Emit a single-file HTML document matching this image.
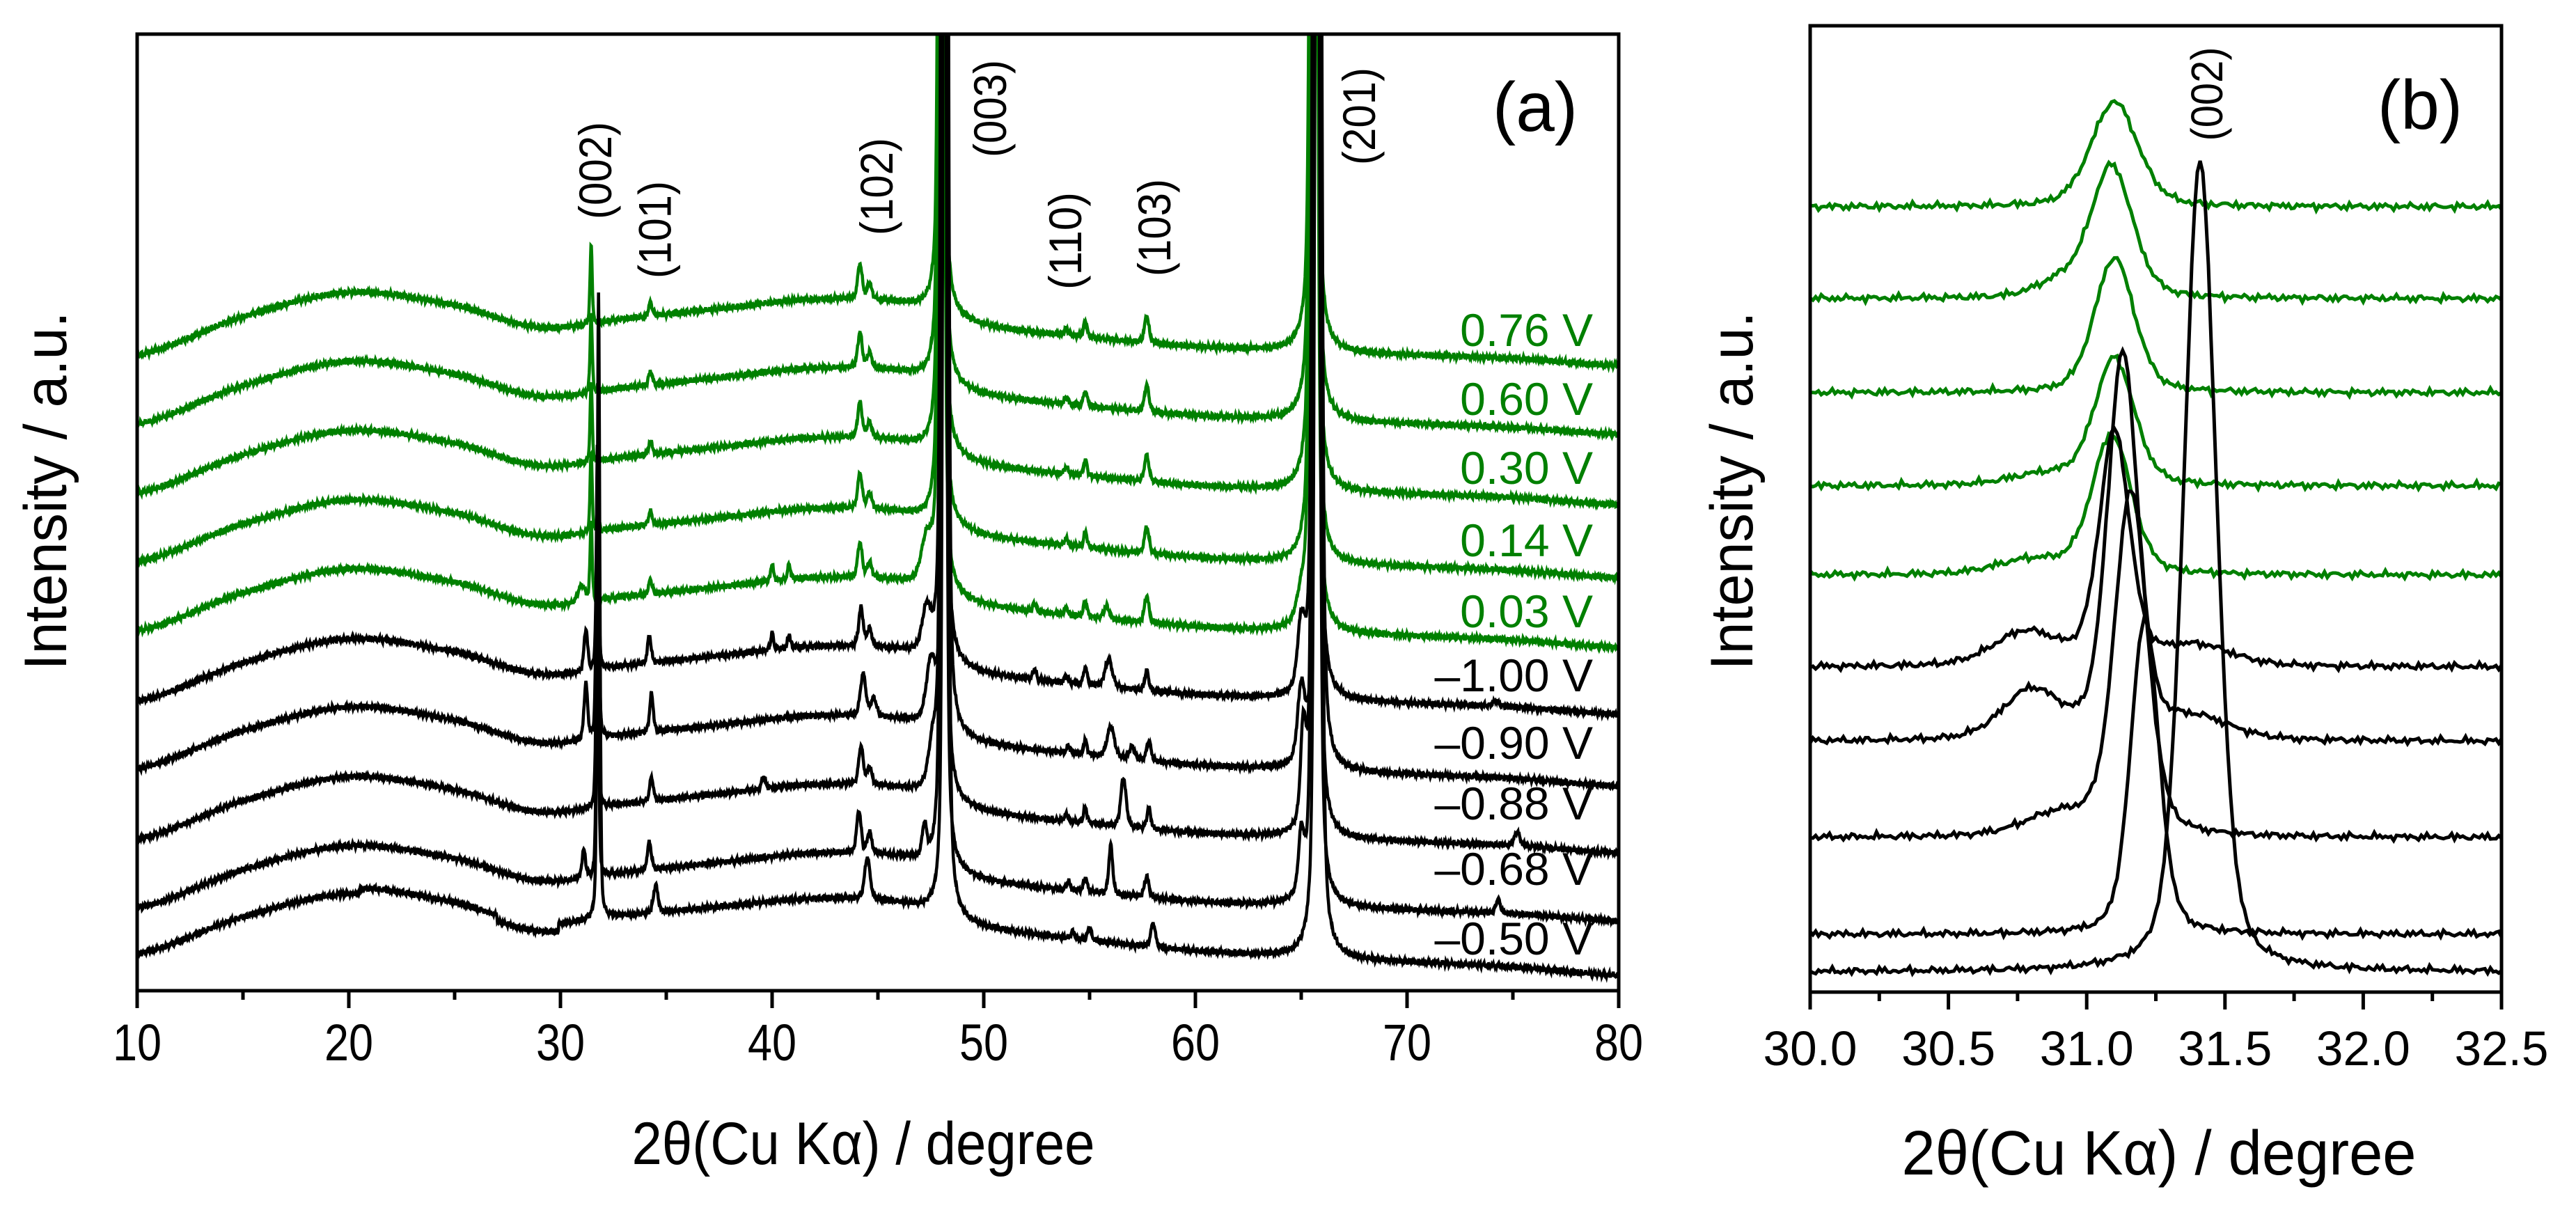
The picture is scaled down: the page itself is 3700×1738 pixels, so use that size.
<!DOCTYPE html>
<html><head><meta charset="utf-8"><style>
html,body{margin:0;padding:0;background:#fff;}
svg{display:block;font-family:"Liberation Sans",sans-serif;}
</style></head><body>
<svg id="chart" width="3700" height="1738" viewBox="0 0 3700 1738" xmlns="http://www.w3.org/2000/svg">
<defs>
<clipPath id="clipA"><rect x="197" y="49" width="2128" height="1374"/></clipPath>
<clipPath id="clipB"><rect x="2600" y="37" width="993" height="1388"/></clipPath>
</defs>
<g id="curvesA" clip-path="url(#clipA)"></g>
<g id="curvesB" clip-path="url(#clipB)"></g>
<rect x="197" y="49" width="2128" height="1374" fill="none" stroke="#000" stroke-width="5"/>
<rect x="2600" y="37" width="993" height="1388" fill="none" stroke="#000" stroke-width="5"/>
<g id="axesA"></g>
<g id="axesB"></g>
<g id="labelsA"></g>
<text x="1240" y="1672" font-size="86" text-anchor="middle" textLength="665" lengthAdjust="spacingAndGlyphs">2θ(Cu Kα) / degree</text>
<text transform="translate(95,705) rotate(-90)" font-size="86" text-anchor="middle" textLength="515" lengthAdjust="spacingAndGlyphs">Intensity / a.u.</text>
<text x="3101" y="1687" font-size="90" text-anchor="middle" textLength="739" lengthAdjust="spacingAndGlyphs">2θ(Cu Kα) / degree</text>
<text transform="translate(2517,705) rotate(-90)" font-size="86" text-anchor="middle" textLength="515" lengthAdjust="spacingAndGlyphs">Intensity / a.u.</text>
<text x="2205" y="188" font-size="100" text-anchor="middle">(a)</text>
<text x="3476" y="185" font-size="100" text-anchor="middle">(b)</text>
<text transform="translate(3192,135) rotate(-90)" font-size="64" text-anchor="middle" textLength="135" lengthAdjust="spacingAndGlyphs">(002)</text>
</svg>
<script>
// ---------- Panel (a) data ----------
const aLabels = ["0.76 V","0.60 V","0.30 V","0.14 V","0.03 V","\u20131.00 V","\u20130.90 V","\u20130.88 V","\u20130.68 V","\u20130.50 V"];
const aGreen = [true,true,true,true,true,false,false,false,false,false];
const aOffsets = [913,814,715,616,517,416,319,218,119,53];
const aTilt = [0,0,-2,-8,-9,-4,-10,-5,-4,-28];
const aLabelY = [497,596,695,799,901,993,1090,1177,1271,1371];
const bgX = [10,15,20,25,29,33,38,42,46,50,55,60,65,70,75,80];
const bgY = [0,55,90,72,40,52,68,80,75,42,25,12,5,0,-5,-15];
const greenPeaks = [[31.45,115,0.12],[34.25,20,0.2],[44.15,50,0.25],[44.6,22,0.25],[48.0,3000,0.22],[53.9,10,0.2],[54.8,22,0.2],[57.7,38,0.25],[65.6,3000,0.28]];
const extraPeaks = [
 [],[],[],[],
 [[31.0,25,0.4],[40.0,25,0.15],[40.8,22,0.15],[47.3,60,0.6],[52.4,12,0.2],[55.8,18,0.3],[65.0,30,0.5]],
 [[31.75,260,0.14],[31.2,60,0.2],[34.2,40,0.2],[40.0,25,0.15],[40.8,20,0.15],[44.2,55,0.25],[44.6,25,0.25],[47.3,60,0.5],[48.1,3000,0.22],[52.4,15,0.2],[53.9,10,0.2],[54.8,25,0.2],[55.9,40,0.4],[57.7,28,0.22],[65.0,90,0.4],[65.7,3000,0.28],[74.2,8,0.3]],
 [[31.75,427,0.14],[31.2,80,0.2],[34.3,55,0.2],[44.3,60,0.3],[44.8,25,0.3],[47.5,80,0.5],[48.2,3000,0.22],[54.0,10,0.2],[54.8,20,0.2],[56.0,45,0.4],[57.0,18,0.3],[57.8,28,0.25],[65.0,100,0.4],[65.8,3000,0.28]],
 [[31.75,382,0.14],[34.3,35,0.2],[39.6,18,0.2],[44.2,55,0.25],[44.6,25,0.25],[47.6,60,0.5],[48.1,3000,0.22],[53.9,10,0.2],[54.8,22,0.2],[56.6,70,0.3],[57.8,30,0.22],[65.1,130,0.3],[65.7,3000,0.28],[75.2,20,0.3]],
 [[31.75,351,0.14],[31.1,40,0.2],[34.2,40,0.22],[44.1,60,0.25],[44.6,30,0.25],[47.2,45,0.25],[48.1,3000,0.22],[54.0,12,0.2],[54.8,20,0.2],[56.0,70,0.22],[57.7,30,0.25],[65.0,80,0.3],[65.7,3000,0.28],[74.3,20,0.25]],
 [[31.8,900,0.14],[34.5,40,0.25],[44.5,60,0.3],[48.2,3000,0.22],[54.2,10,0.2],[55.0,18,0.22],[58.0,35,0.25],[65.8,3000,0.28]]
];
const aTicks = [10,20,30,40,50,60,70,80];
const hklLabels = ["(002)","(101)","(102)","(003)","(110)","(103)","(201)"];
const hklX = [31.65,34.45,44.93,50.3,53.85,58.06,67.73];
const hklY = [245,330,268,156,346,327,167];

// ---------- Panel (b) data ----------
const bOffsets = [1128,996,861,727,599,467,360,222,83,29];
const bPeaks = [
 [[31.10,151,0.2]],
 [[31.09,190,0.18],[30.9,20,0.2]],
 [[31.10,194,0.17]],
 [[31.10,182,0.17],[30.85,15,0.3]],
 [[31.09,200,0.17],[30.8,20,0.3]],
 [[31.10,336,0.13],[30.78,48,0.28],[31.4,28,0.3]],
 [[31.13,555,0.13],[30.8,70,0.25],[31.4,28,0.3]],
 [[31.16,497,0.14],[30.9,30,0.3]],
 [[31.21,456,0.12]],
 [[31.41,1166,0.14]]
];
const bTicks = [30.0,30.5,31.0,31.5,32.0,32.5];

const NS="http://www.w3.org/2000/svg";
function xA(d){return 197+(d-10)*(2128/70);}
function yA(v){return 1423-v;}
function xB(d){return 2600+(d-30)*(993/2.5);}
function yB(v){return 1425-v;}
function pv(x,c,h,w){const t=(x-c)/(w/2);return h*(0.35/(1+t*t)+0.65*Math.exp(-0.693*t*t));}
function bg(x){
  const n=bgX.length;
  for(let i=0;i<n-1;i++){if(x<=bgX[i+1]){
    const t=(x-bgX[i])/(bgX[i+1]-bgX[i]);
    const p0=bgY[Math.max(i-1,0)],p1=bgY[i],p2=bgY[i+1],p3=bgY[Math.min(i+2,n-1)];
    return 0.5*((2*p1)+(-p0+p2)*t+(2*p0-5*p1+4*p2-p3)*t*t+(-p0+3*p1-3*p2+p3)*t*t*t);
  }}
  return bgY[n-1];
}
function jitter(x,i,a){return a*(Math.sin(x*913.7+i*17.1)*0.45+Math.sin(x*2311.3+i*5.3)*0.35+Math.sin(x*5273.9+i*2.9)*0.3+Math.sin(x*377.1+i*1.7)*0.3);}

const gA=document.getElementById('curvesA');
for(let i=0;i<aLabels.length;i++){
  const peaks=(aGreen[i]?greenPeaks:[]).concat(extraPeaks[i]);
  let d="";
  for(let x=10;x<=80.001;x+=0.02){
    let v=aOffsets[i]+bg(x)+aTilt[i]*(x-10)/70+jitter(x,i,3.5);
    if(i===9){ if(x>29.9) v+=12; if(x>20.5&&x<27) v+=8; }
    for(const p of peaks) v+=pv(x,p[0],p[1],p[2]);
    if(v>2000)v=2000;
    d+=(d?"L":"M")+xA(x).toFixed(1)+","+yA(v).toFixed(1);
  }
  const path=document.createElementNS(NS,'path');
  path.setAttribute('d',d);path.setAttribute('fill','none');
  path.setAttribute('stroke',aGreen[i]?'#008000':'#000');path.setAttribute('stroke-width','4.5');
  
  
  gA.appendChild(path);
}
const gB=document.getElementById('curvesB');
for(let i=0;i<bOffsets.length;i++){
  let d="";
  for(let x=30;x<=32.5001;x+=0.01){
    let v=bOffsets[i]+jitter(x*0.37,i+3,5);
    for(const p of bPeaks[i]) v+=pv(x,p[0],p[1],p[2]);
    d+=(d?"L":"M")+xB(x).toFixed(1)+","+yB(v).toFixed(1);
  }
  const path=document.createElementNS(NS,'path');
  path.setAttribute('d',d);path.setAttribute('fill','none');
  path.setAttribute('stroke',aGreen[i]?'#008000':'#000');path.setAttribute('stroke-width','5');
  
  
  gB.appendChild(path);
}
function line(g,x1,y1,x2,y2,w){const l=document.createElementNS(NS,'line');l.setAttribute('x1',x1);l.setAttribute('y1',y1);l.setAttribute('x2',x2);l.setAttribute('y2',y2);l.setAttribute('stroke','#000');l.setAttribute('stroke-width',w);


g.appendChild(l);}
function txt(g,x,y,s,size,anchor,fill,len,name){const t=document.createElementNS(NS,'text');t.setAttribute('x',x);t.setAttribute('y',y);t.setAttribute('font-size',size);t.setAttribute('text-anchor',anchor);t.setAttribute('fill',fill);if(len){t.setAttribute('textLength',len);t.setAttribute('lengthAdjust','spacingAndGlyphs');}t.textContent=s;


g.appendChild(t);return t;}
const axA=document.getElementById('axesA');
for(let k=10;k<=80;k+=5){const x=xA(k);line(axA,x,1423,x,k%10===0?1448:1436,5);}
for(const t of aTicks) txt(axA,xA(t),1523,String(t),74,'middle','#000',70,'x-tick-label-a');
const axB=document.getElementById('axesB');
for(let k=0;k<=10;k++){const v=30+k*0.25;const x=xB(v);line(axB,x,1425,x,k%2===0?1450:1438,5);}
for(const t of bTicks) txt(axB,xB(t),1530,t.toFixed(1),70,'middle','#000',135,'x-tick-label-b');
const lA=document.getElementById('labelsA');
for(let i=0;i<aLabels.length;i++) txt(lA,2288,aLabelY[i],aLabels[i],66,'end',aGreen[i]?'#008000':'#000',0,'curve-label');
for(let i=0;i<hklLabels.length;i++){
  const t=txt(lA,0,0,hklLabels[i],66,'middle','#000',140,'peak-label-'+hklLabels[i].replace(/[()]/g,''));
  t.setAttribute('transform','translate('+(xA(hklX[i])+23).toFixed(1)+','+hklY[i]+') rotate(-90)');
}
</script>
</body></html>
